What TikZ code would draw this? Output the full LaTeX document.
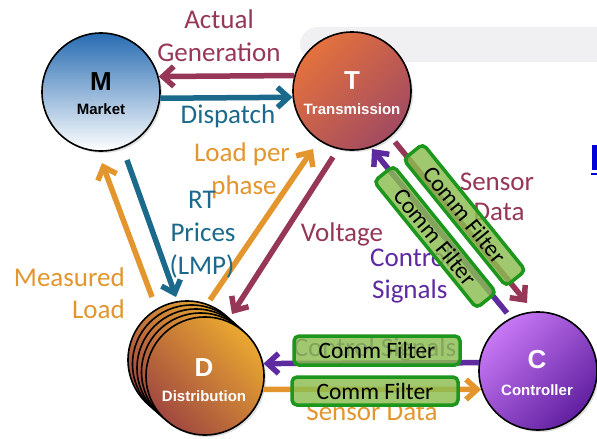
\documentclass[tikz,border=0pt]{standalone}
\usepackage{fontspec}
\setmainfont{Carlito}
\newfontfamily\arialf{Liberation Sans}
\usetikzlibrary{arrows.meta,shadows}
\definecolor{cmaroon}{RGB}{150,55,88}
\definecolor{cteal}{RGB}{27,106,140}
\definecolor{corange}{RGB}{226,150,45}
\definecolor{cpurple}{RGB}{94,42,160}
\definecolor{cgreenb}{RGB}{28,150,28}
\definecolor{cgreenf}{RGB}{140,190,80}
\definecolor{cbg}{RGB}{240,240,242}
\begin{document}
\begin{tikzpicture}[
  x=1pt, y=-1pt,
  arr/.style={line width=5.5pt, -{Straight Barb[length=11pt,width=20pt]}},
  lbl/.style={font=\fontsize{27}{27}\selectfont, inner sep=0pt, text height=17pt, text depth=0pt},
  ball/.style={circle, draw=black, line width=1.6pt, minimum size=118pt, inner sep=0pt,
     drop shadow={opacity=0.25, shadow xshift=2pt, shadow yshift=-2pt}},
  bigl/.style={font=\arialf\bfseries\fontsize{26}{26}\selectfont, inner sep=0pt},
  smalll/.style={font=\arialf\bfseries\fontsize{15}{15}\selectfont, inner sep=0pt},
  filt/.style={draw=cgreenb, line width=3.5pt, rounded corners=5pt, fill=cgreenf, fill opacity=0.82,
     text opacity=1, font=\fontsize{23.5}{23.5}\selectfont, inner sep=0pt, text height=16pt, text depth=0pt},
  dball/.style={ball, top color={rgb,255:red,234;green,168;blue,48}, bottom color={rgb,255:red,160;green,72;blue,64}, shading angle=-45}
]
\useasboundingbox (0,0) rectangle (597,439);
\fill[white] (0,0) rectangle (597,439);
% faint background band
\fill[cbg, rounded corners=18pt] (300,27) -- (640,27) -- (640,62) -- (300,62) -- cycle;

% circles
\node[ball, top color={rgb,255:red,40;green,108;blue,178}, bottom color=white] (M) at (101,92) {};
\node[ball, top color={rgb,255:red,228;green,114;blue,62}, bottom color={rgb,255:red,162;green,74;blue,96}, shading angle=45] (T) at (352,91) {};
\node[ball, top color={rgb,255:red,200;green,120;blue,245}, bottom color={rgb,255:red,96;green,32;blue,160}, shading angle=45] (C) at (538,371) {};
\node[dball] (D4) at (187,360) {};
\node[dball] (D3) at (191.5,364) {};
\node[dball] (D2) at (196,368) {};
\node[dball] (D1) at (200.5,372) {};
\node[dball] (D) at (205,376) {};

% arrow end coordinates
\coordinate (rtS) at (127,160); \coordinate (rtE) at (176,297);
\coordinate (mlS) at (152,297); \coordinate (mlE) at (102,163);
\coordinate (lpS) at (210,300); \coordinate (lpE) at (313,149);
\coordinate (vS) at (333,157);  \coordinate (vE) at (232,314);
\coordinate (csS) at (507,313); \coordinate (csE) at (372,149);
\coordinate (sdS) at (395,142); \coordinate (sdE) at (527,303);

% arrows
\draw[arr, cmaroon] (T.165) -- (M.15);
\draw[arr, cteal] (M.-6) -- (T.186);
\draw[arr, cteal] (rtS) -- (rtE);
\draw[arr, corange] (mlS) -- (mlE);
\draw[arr, corange] (lpS) -- (lpE);
\draw[arr, cmaroon] (vS) -- (vE);
\draw[arr, cpurple] (csS) -- (csE);
\draw[arr, cmaroon] (sdS) -- (sdE);
\draw[arr, cpurple] (C.172) -- (D.12);
\draw[arr, corange] (D.-13) -- (C.198);

% circle labels
\node[bigl, text=black] (Ml) at (101,82) {M};
\node[smalll, text=black] (Mt) at (101,109) {Market};
\node[bigl, text=white] (Tl) at (352,81) {T};
\node[smalll, text=white] (Tt) at (352,109) {Transmission};
\node[bigl, text=white] (Dl) at (204,368) {D};
\node[smalll, text=white] (Dt) at (204,396) {Distribution};
\node[bigl, text=white] (Cl) at (537,360) {C};
\node[smalll, text=white] (Ct) at (537,390) {Controller};

% text labels
\node[lbl, text=cmaroon] (ag1) at (219,20) {Actual};
\node[lbl, text=cmaroon] (ag2) at (219,53) {Generation};
\node[lbl, text=cteal] (dis) at (228,115) {Dispatch};
\node[lbl, text=corange] (lp1) at (242,153) {Load per};
\node[lbl, text=corange] (lp2) at (244,186) {phase};
\node[lbl, text=cteal] (rt1) at (202,200) {RT};
\node[lbl, text=cteal] (rt2) at (203,233) {Prices};
\node[lbl, text=cteal] (rt3) at (202,266) {(LMP)};
\node[lbl, text=corange, anchor=east] (ml1) at (125,278) {Measured};
\node[lbl, text=corange, anchor=east] (ml2) at (125,310) {Load};
\node[lbl, text=cmaroon] (vo) at (342,233) {Voltage};
\node[lbl, text=cpurple, anchor=west] (cs1) at (370,258) {Control};
\node[lbl, text=cpurple, anchor=west] (cs2) at (372,290) {Signals};
\node[lbl, text=cmaroon] (sd1) at (497,182) {Sensor};
\node[lbl, text=cmaroon] (sd2) at (499,212) {Data};
\node[lbl, text=cpurple] (bcs) at (375,348) {Control Signals};
\node[lbl, text=corange] (bsd) at (372,412) {Sensor Data};

% comm filters
\node[filt, rotate=-51, minimum width=163pt, minimum height=25pt] (fA) at (464.5,215) {Comm Filter};
\node[filt, rotate=-51, minimum width=163pt, minimum height=25pt] (fB) at (435,237) {Comm Filter};
\node[filt, minimum width=166pt, minimum height=29pt] (fC) at (377,350.5) {Comm Filter};
\node[filt, minimum width=166pt, minimum height=28pt] (fD) at (375,391) {Comm Filter};

% link fragment at right edge
\fill[blue!85!black] (592,145) rectangle (597,170);
\fill[blue!85!black] (591,172.5) rectangle (597,175);
\end{tikzpicture}
\end{document}
